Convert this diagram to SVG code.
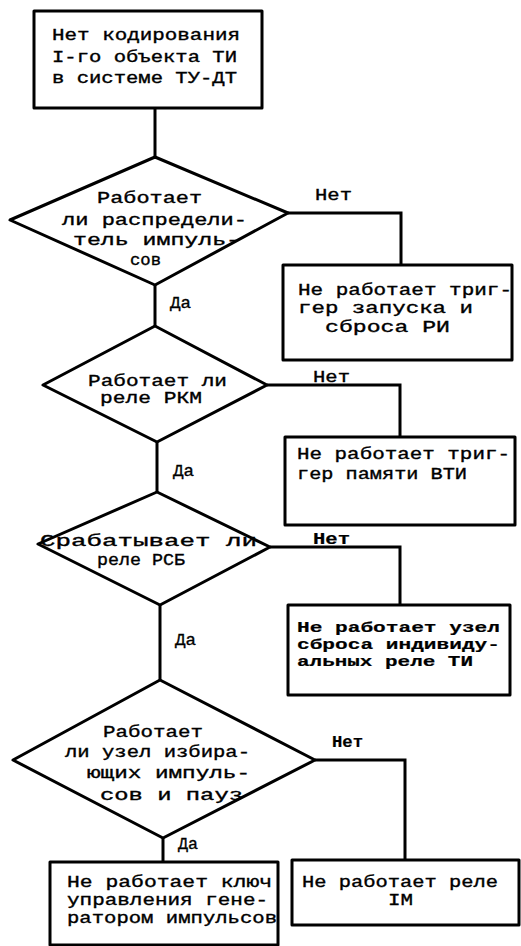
<svg xmlns="http://www.w3.org/2000/svg" width="521" height="946" viewBox="0 0 521 946">
<style>
.shape{fill:#fff;stroke:#000;stroke-width:3;stroke-linejoin:round}
.conn{fill:none;stroke:#000;stroke-width:3}
text{font-family:"Liberation Mono","DejaVu Sans Mono",monospace;font-size:16px;fill:#000;stroke:#000;stroke-width:0.35}
.b{font-weight:bold;stroke-width:0.2}
.s{font-size:15px}
</style>
<rect width="521" height="946" fill="#fff"/>
<g id="connectors">
<path class="conn" d="M155,108 V157"/>
<path class="conn" d="M288,213 H401 V265"/>
<path class="conn" d="M155,285 V326"/>
<path class="conn" d="M267,385 H400 V437"/>
<path class="conn" d="M157,442 V492"/>
<path class="conn" d="M270,547 H400 V605"/>
<path class="conn" d="M160,605 V680"/>
<path class="conn" d="M315,760 H405 V860"/>
<path class="conn" d="M163,838 V862"/>
<text x="315" y="200" textLength="37" lengthAdjust="spacingAndGlyphs">Нет</text>
<text x="170" y="308" textLength="21" lengthAdjust="spacingAndGlyphs">Да</text>
<text x="313" y="382" textLength="37" lengthAdjust="spacingAndGlyphs">Нет</text>
<text x="173" y="476" textLength="21" lengthAdjust="spacingAndGlyphs">Да</text>
<text class="b" x="313" y="544" textLength="37" lengthAdjust="spacingAndGlyphs">Нет</text>
<text x="175" y="645" textLength="21" lengthAdjust="spacingAndGlyphs">Да</text>
<text class="b" x="332" y="747" textLength="31" lengthAdjust="spacingAndGlyphs">Нет</text>
<text x="178" y="849" textLength="20" lengthAdjust="spacingAndGlyphs">Да</text>
</g>
<g id="start">
<rect class="shape" x="34" y="11" width="228" height="97"/>
<text x="52" y="40" textLength="188" lengthAdjust="spacingAndGlyphs">Нет кодирования</text>
<text x="52" y="62" textLength="185" lengthAdjust="spacingAndGlyphs">I-го объекта ТИ</text>
<text x="52" y="83" textLength="185" lengthAdjust="spacingAndGlyphs">в системе ТУ-ДТ</text>
</g>
<g id="q1">
<polygon class="shape" points="155,157 288,213 155,285 10,220"/>
<text x="97" y="203" textLength="105" lengthAdjust="spacingAndGlyphs">Работает</text>
<text x="62" y="225" textLength="185" lengthAdjust="spacingAndGlyphs">ли распредели-</text>
<text x="73" y="245" textLength="167" lengthAdjust="spacingAndGlyphs">тель импуль-</text>
<text x="130" y="265" textLength="31" lengthAdjust="spacingAndGlyphs">сов</text>
</g>
<g id="r1">
<rect class="shape" x="283" y="265" width="229" height="95"/>
<text x="298" y="295" textLength="214" lengthAdjust="spacingAndGlyphs">Не работает триг-</text>
<text x="298" y="313" textLength="175" lengthAdjust="spacingAndGlyphs">гер запуска  и</text>
<text x="325" y="332" textLength="125" lengthAdjust="spacingAndGlyphs">сброса РИ</text>
</g>
<g id="q2">
<polygon class="shape" points="155,326 267,385 157,442 43,385"/>
<text x="88" y="386" textLength="139" lengthAdjust="spacingAndGlyphs">Работает ли</text>
<text x="100" y="403" textLength="102" lengthAdjust="spacingAndGlyphs">реле РКМ</text>
</g>
<g id="r2">
<rect class="shape" x="285" y="437" width="230" height="88"/>
<text x="297" y="459" textLength="213" lengthAdjust="spacingAndGlyphs">Не работает триг-</text>
<text x="297" y="479" textLength="170" lengthAdjust="spacingAndGlyphs">гер памяти ВТИ</text>
</g>
<g id="q3">
<polygon class="shape" points="157,492 270,547 160,605 38,544"/>
<text x="40" y="546" textLength="217" lengthAdjust="spacingAndGlyphs">Срабатывает ли</text>
<text x="97" y="565" textLength="88" lengthAdjust="spacingAndGlyphs">реле РСБ</text>
</g>
<g id="r3">
<rect class="shape" x="288" y="605" width="222" height="90"/>
<text class="b s" x="297" y="632" textLength="203" lengthAdjust="spacingAndGlyphs">Не работает узел</text>
<text class="b s" x="297" y="649" textLength="203" lengthAdjust="spacingAndGlyphs">сброса индивиду-</text>
<text class="b s" x="297" y="666" textLength="176" lengthAdjust="spacingAndGlyphs">альных реле ТИ</text>
</g>
<g id="q4">
<polygon class="shape" points="160,680 315,760 163,838 13,760"/>
<text x="103" y="737" textLength="100" lengthAdjust="spacingAndGlyphs">Работает</text>
<text x="65" y="757" textLength="185" lengthAdjust="spacingAndGlyphs">ли узел избира-</text>
<text x="87" y="778" textLength="163" lengthAdjust="spacingAndGlyphs">ющих импуль-</text>
<text x="100" y="800" textLength="143" lengthAdjust="spacingAndGlyphs">сов и пауз</text>
</g>
<g id="r4">
<rect class="shape" x="50" y="862" width="228" height="83"/>
<text x="67" y="887" textLength="205" lengthAdjust="spacingAndGlyphs">Не работает ключ</text>
<text x="67" y="905" textLength="201" lengthAdjust="spacingAndGlyphs">управления гене-</text>
<text x="67" y="923" textLength="210" lengthAdjust="spacingAndGlyphs">ратором импульсов</text>
</g>
<g id="r5">
<rect class="shape" x="292" y="860" width="227" height="65"/>
<text x="302" y="887" textLength="196" lengthAdjust="spacingAndGlyphs">Не работает реле</text>
<text x="388" y="905" textLength="25" lengthAdjust="spacingAndGlyphs">IM</text>
</g>
</svg>
